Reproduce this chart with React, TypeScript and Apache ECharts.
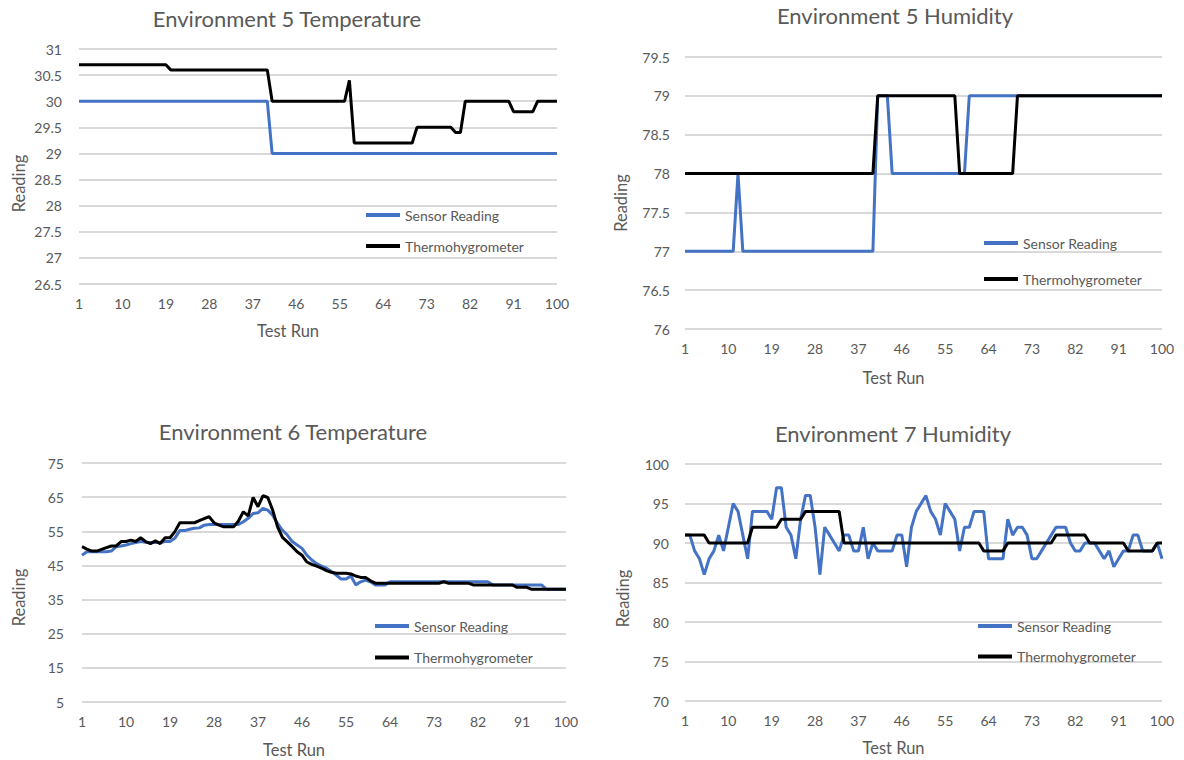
import React, { useEffect, useRef } from "react";
import * as echarts from "echarts";

// ---------- data ----------
const runs: string[] = Array.from({ length: 100 }, (_, i) => String(i + 1));

const env5TempSensor: number[] = [
  30, 30, 30, 30, 30, 30, 30, 30, 30, 30,
  30, 30, 30, 30, 30, 30, 30, 30, 30, 30,
  30, 30, 30, 30, 30, 30, 30, 30, 30, 30,
  30, 30, 30, 30, 30, 30, 30, 30, 30, 30,
  29, 29, 29, 29, 29, 29, 29, 29, 29, 29,
  29, 29, 29, 29, 29, 29, 29, 29, 29, 29,
  29, 29, 29, 29, 29, 29, 29, 29, 29, 29,
  29, 29, 29, 29, 29, 29, 29, 29, 29, 29,
  29, 29, 29, 29, 29, 29, 29, 29, 29, 29,
  29, 29, 29, 29, 29, 29, 29, 29, 29, 29,
];
const env5TempThermo: number[] = [
  30.7, 30.7, 30.7, 30.7, 30.7, 30.7, 30.7, 30.7, 30.7, 30.7,
  30.7, 30.7, 30.7, 30.7, 30.7, 30.7, 30.7, 30.7, 30.7, 30.6,
  30.6, 30.6, 30.6, 30.6, 30.6, 30.6, 30.6, 30.6, 30.6, 30.6,
  30.6, 30.6, 30.6, 30.6, 30.6, 30.6, 30.6, 30.6, 30.6, 30.6,
  30, 30, 30, 30, 30, 30, 30, 30, 30, 30,
  30, 30, 30, 30, 30, 30, 30.4, 29.2, 29.2, 29.2,
  29.2, 29.2, 29.2, 29.2, 29.2, 29.2, 29.2, 29.2, 29.2, 29.2,
  29.5, 29.5, 29.5, 29.5, 29.5, 29.5, 29.5, 29.5, 29.4, 29.4,
  30, 30, 30, 30, 30, 30, 30, 30, 30, 30,
  29.8, 29.8, 29.8, 29.8, 29.8, 30, 30, 30, 30, 30,
];

const env5HumSensor: number[] = [
  77, 77, 77, 77, 77, 77, 77, 77, 77, 77,
  77, 78, 77, 77, 77, 77, 77, 77, 77, 77,
  77, 77, 77, 77, 77, 77, 77, 77, 77, 77,
  77, 77, 77, 77, 77, 77, 77, 77, 77, 77,
  79, 79, 79, 78, 78, 78, 78, 78, 78, 78,
  78, 78, 78, 78, 78, 78, 78, 78, 78, 79,
  79, 79, 79, 79, 79, 79, 79, 79, 79, 79,
  79, 79, 79, 79, 79, 79, 79, 79, 79, 79,
  79, 79, 79, 79, 79, 79, 79, 79, 79, 79,
  79, 79, 79, 79, 79, 79, 79, 79, 79, 79,
];
const env5HumThermo: number[] = [
  78, 78, 78, 78, 78, 78, 78, 78, 78, 78,
  78, 78, 78, 78, 78, 78, 78, 78, 78, 78,
  78, 78, 78, 78, 78, 78, 78, 78, 78, 78,
  78, 78, 78, 78, 78, 78, 78, 78, 78, 78,
  79, 79, 79, 79, 79, 79, 79, 79, 79, 79,
  79, 79, 79, 79, 79, 79, 79, 78, 78, 78,
  78, 78, 78, 78, 78, 78, 78, 78, 78, 79,
  79, 79, 79, 79, 79, 79, 79, 79, 79, 79,
  79, 79, 79, 79, 79, 79, 79, 79, 79, 79,
  79, 79, 79, 79, 79, 79, 79, 79, 79, 79,
];

const env6TempSensor: number[] = [
  48, 49, 49, 49, 49, 49, 49.2, 50.5, 50.7, 51,
  51.4, 51.7, 52, 51.8, 51.7, 51.7, 51.7, 52, 52, 53,
  55.2, 55.2, 55.6, 55.9, 56, 56.8, 57, 57, 57, 57,
  57, 57, 57, 57.8, 58.8, 60.2, 60.4, 61.7, 61.2, 59.7,
  57.3, 55.3, 53.9, 52, 51, 50, 48, 46.6, 45.5, 44.8,
  44.2, 43.2, 42.2, 41, 41, 41.9, 39.3, 40.2, 40.7, 40.2,
  39.3, 39.3, 39.3, 40.2, 40.2, 40.2, 40.2, 40.2, 40.2, 40.2,
  40.2, 40.2, 40.2, 40.2, 40.2, 40.2, 40.2, 40.2, 40.2, 40.2,
  40.2, 40.2, 40.2, 40.2, 39.3, 39.3, 39.3, 39.3, 39.3, 39.3,
  39.3, 39.3, 39.3, 39.3, 39.3, 38, 38, 38, 38, 38,
];
const env6TempThermo: number[] = [
  50.5, 49.8, 49.2, 49.2, 49.7, 50.2, 50.7, 50.7, 52, 52,
  52.4, 52, 53.1, 52, 51.4, 52.2, 51.4, 53.1, 53.1, 54.9,
  57.5, 57.5, 57.5, 57.5, 58.1, 58.7, 59.3, 57.5, 56.8, 56.3,
  56.3, 56.3, 58, 60.7, 59.5, 64.9, 62.2, 65.4, 64.9, 61.2,
  56.3, 53.2, 51.9, 50.5, 49, 48, 46, 45.3, 44.8, 44.2,
  43.5, 43, 42.7, 42.7, 42.7, 42.5, 41.9, 41.5, 41.5, 40.5,
  39.8, 39.8, 39.8, 39.8, 39.8, 39.8, 39.8, 39.8, 39.8, 39.8,
  39.8, 39.8, 39.8, 39.8, 40.2, 39.8, 39.8, 39.8, 39.8, 39.8,
  39.3, 39.3, 39.3, 39.3, 39.3, 39.3, 39.3, 39.3, 39.3, 38.6,
  38.6, 38.6, 38, 38, 38, 38, 38, 38, 38, 38,
];

const env7HumSensor: number[] = [
  91, 91, 89, 88, 86, 88, 89, 91, 89, 92,
  95, 94, 91, 88, 94, 94, 94, 94, 93, 97,
  97, 92, 91, 88, 93, 96, 96, 92, 86, 92,
  91, 90, 89, 91, 91, 89, 89, 92, 88, 90,
  89, 89, 89, 89, 91, 91, 87, 92, 94, 95,
  96, 94, 93, 91, 95, 94, 93, 89, 92, 92,
  94, 94, 94, 88, 88, 88, 88, 93, 91, 92,
  92, 91, 88, 88, 89, 90, 91, 92, 92, 92,
  90, 89, 89, 90, 90, 90, 89, 88, 89, 87,
  88, 89, 89, 91, 91, 89, 89, 89, 90, 88,
];
const env7HumThermo: number[] = [
  91, 91, 91, 91, 91, 90, 90, 90, 90, 90,
  90, 90, 90, 90, 92, 92, 92, 92, 92, 92,
  93, 93, 93, 93, 93, 94, 94, 94, 94, 94,
  94, 94, 94, 90, 90, 90, 90, 90, 90, 90,
  90, 90, 90, 90, 90, 90, 90, 90, 90, 90,
  90, 90, 90, 90, 90, 90, 90, 90, 90, 90,
  90, 90, 89, 89, 89, 89, 89, 90, 90, 90,
  90, 90, 90, 90, 90, 90, 90, 91, 91, 91,
  91, 91, 91, 91, 90, 90, 90, 90, 90, 90,
  90, 90, 89, 89, 89, 89, 89, 89, 90, 90,
];

const seriesNames = ["Sensor Reading", "Thermohygrometer"];
const titles = [
  "Environment 5 Temperature",
  "Environment 5 Humidity",
  "Environment 6 Temperature",
  "Environment 7 Humidity",
];
const xAxisTitle = "Test Run";
const yAxisTitle = "Reading";

// ---------- layout ----------
const FONT = "Lato, 'Open Sans', sans-serif";
const TEXT = "#595959";

const panels = [
  {
    title: titles[0], sensor: env5TempSensor, thermo: env5TempThermo,
    yMin: 26.5, yMax: 31, yStep: 0.5,
    titleX: 282, titleY: 2,
    grid: { left: 79, top: 49, width: 478, height: 235 },
    legendX: 361, legendY: 202, legendGap: 15,
    yNameGap: 52, yShift: 17, xNameGap: 38, yMargin: 17,
  },
  {
    title: titles[1], sensor: env5HumSensor, thermo: env5HumThermo,
    yMin: 76, yMax: 79.5, yStep: 0.5,
    titleX: 890, titleY: -1,
    grid: { left: 685, top: 57, width: 477, height: 272 },
    legendX: 979, legendY: 230, legendGap: 20,
    yNameGap: 56, yShift: 10, xNameGap: 40, yMargin: 15,
  },
  {
    title: titles[2], sensor: env6TempSensor, thermo: env6TempThermo,
    yMin: 5, yMax: 75, yStep: 10,
    titleX: 288, titleY: 415,
    grid: { left: 82, top: 463, width: 484, height: 239 },
    legendX: 370, legendY: 613, legendGap: 15.5,
    yNameGap: 55, yShift: 15, xNameGap: 39, yMargin: 18,
  },
  {
    title: titles[3], sensor: env7HumSensor, thermo: env7HumThermo,
    yMin: 70, yMax: 100, yStep: 5,
    titleX: 888, titleY: 417,
    grid: { left: 685, top: 464, width: 477, height: 237 },
    legendX: 973, legendY: 613, legendGap: 14.5,
    yNameGap: 54, yShift: 16, xNameGap: 38, yMargin: 16,
  },
];

function buildOption() {
  const option: any = {
    animation: false,
    backgroundColor: "#ffffff",
    textStyle: { fontFamily: FONT },
    title: [],
    grid: [],
    xAxis: [],
    yAxis: [],
    legend: [],
    series: [],
  };
  panels.forEach((p, i) => {
    option.title.push({
      text: p.title,
      left: p.titleX,
      top: p.titleY,
      textAlign: "center",
      textStyle: { fontFamily: FONT, fontSize: 22, fontWeight: "normal", color: TEXT },
    });
    option.grid.push({ ...p.grid, containLabel: false });
    option.xAxis.push({
      type: "category",
      gridIndex: i,
      data: runs,
      boundaryGap: false,
      name: xAxisTitle,
      nameLocation: "middle",
      nameGap: p.xNameGap,
      nameTextStyle: { fontFamily: FONT, fontSize: 16.5, color: TEXT, padding: [0, 60, 0, 0] },
      axisLine: { show: false },
      axisTick: { show: false },
      axisLabel: { interval: 8, margin: 12, fontSize: 14, color: TEXT, fontFamily: FONT },
      splitLine: { show: false },
    });
    option.yAxis.push({
      type: "value",
      gridIndex: i,
      min: p.yMin,
      max: p.yMax,
      interval: p.yStep,
      name: yAxisTitle,
      nameLocation: "middle",
      nameGap: p.yNameGap,
      nameTextStyle: { fontFamily: FONT, fontSize: 16.5, color: TEXT, padding: [0, p.yShift * 2, 0, 0] },
      axisLine: { show: false },
      axisTick: { show: false },
      axisLabel: { margin: p.yMargin, fontSize: 14, color: TEXT, fontFamily: FONT },
      splitLine: { show: true, lineStyle: { color: "#d9d9d9", width: 2 } },
    });
    option.legend.push({
      orient: "vertical",
      left: p.legendX,
      top: p.legendY,
      itemGap: p.legendGap,
      itemWidth: 34,
      itemHeight: 4,
      icon: "rect",
      selectedMode: false,
      data: seriesNames,
      textStyle: { fontFamily: FONT, fontSize: 14, color: TEXT, lineHeight: 16 },
    });
    option.series.push({
      name: seriesNames[0],
      type: "line",
      xAxisIndex: i,
      yAxisIndex: i,
      data: p.sensor,
      showSymbol: false,
      symbol: "none",
      lineStyle: { color: "#4472c4", width: 3 },
      itemStyle: { color: "#4472c4" },
      z: 2,
    });
    option.series.push({
      name: seriesNames[1],
      type: "line",
      xAxisIndex: i,
      yAxisIndex: i,
      data: p.thermo,
      showSymbol: false,
      symbol: "none",
      lineStyle: { color: "#000000", width: 3 },
      itemStyle: { color: "#000000" },
      z: 3,
    });
  });
  return option;
}

export default function App() {
  const ref = useRef<HTMLDivElement>(null);
  useEffect(() => {
    if (!ref.current) return;
    const chart = echarts.init(ref.current, undefined, { renderer: "svg" });
    chart.setOption(buildOption());
    return () => chart.dispose();
  }, []);
  return (
    <div
      ref={ref}
      style={{ position: "fixed", left: 0, top: 0, width: 1184, height: 760, background: "#fff" }}
    />
  );
}
